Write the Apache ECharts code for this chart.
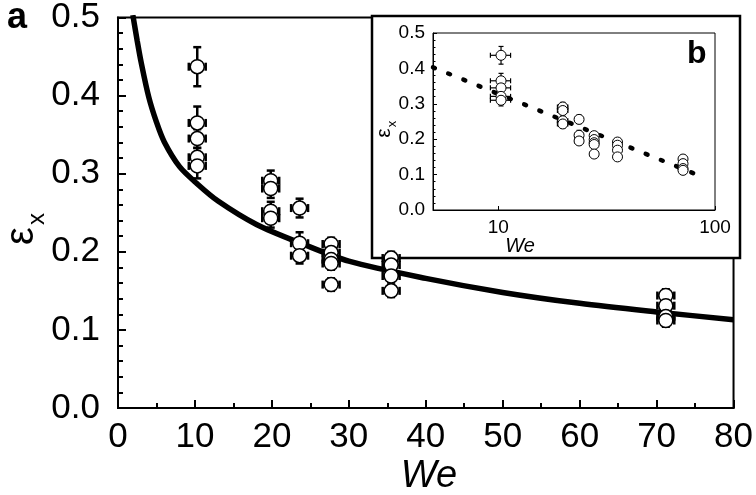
<!DOCTYPE html>
<html>
<head>
<meta charset="utf-8">
<script src="https://cdn.jsdelivr.net/npm/echarts@6/dist/echarts.min.js"></script>
<style>
html,body{margin:0;padding:0;background:#fff;}
#chart{width:756px;height:495px;}
</style>
</head>
<body>
<div id="chart"></div>
<script>
// ---- data ----
const pointWe   = [10.3,10.3,10.3,10.3,10.3, 19.85,19.85,19.85,19.85, 23.6,23.6,23.6, 27.7,27.7,27.7,27.7,27.7, 35.5,35.5,35.5,35.5, 71.2,71.2,71.2,71.2];
const pointEps  = [0.437,0.365,0.345,0.321,0.310, 0.291,0.281,0.252,0.243, 0.256,0.211,0.195, 0.210,0.199,0.190,0.185,0.158, 0.192,0.183,0.169,0.150, 0.144,0.131,0.117,0.112];
const pointErrY = [0.025,0.021,0.012,0.012,0.016, 0.013,0.012,0.012,0.012, 0.012,0.014,0.010, 0.008,0.008,0.008,0.008,0.008, 0.008,0.008,0.008,0.008, 0.008,0.008,0.008,0.008];
const pointErrX = [1.1,1.1,1.1,1.1,1.1, 1.1,1.1,1.1,1.1, 1.1,1.1,1.1, 1.1,1.1,1.1,1.1,1.1, 1.1,1.1,1.1,1.1, 1.1,1.1,1.1,1.1];

// fitted curve in panel a
const curveWe  = [1.93, 2.5, 3.0, 4.0, 5.0, 6.0, 8.0, 10.3, 13.0, 18.0, 24.0, 30.0, 40.0, 50.0, 60.0, 70.0, 80.0];
const curveEps = [0.503,0.470,0.443,0.398,0.366,0.341,0.309,0.287,0.265,0.235,0.210,0.188,0.166,0.148,0.134,0.123,0.113];

// dotted line in inset b (log x axis)
const insetLineWe  = [5, 88];
const insetLineEps = [0.403, 0.093];

const mainXTicks = [0, 80, 10];
const mainYTicks = [0, 0.5, 0.1];

const FONT = '"Liberation Sans", Arial, Helvetica, sans-serif';

const pts = pointWe.map((w, i) => [w, pointEps[i], pointErrY[i], pointErrX[i]]);
const curve = curveWe.map((w, i) => [w, curveEps[i]]);
const insetLine = insetLineWe.map((w, i) => [w, insetLineEps[i]]);

function errRender(lw, cap) {
  return function (params, api) {
    const x = api.value(0), y = api.value(1), ey = api.value(2), ex = api.value(3);
    const top = api.coord([x, y + ey]);
    const bot = api.coord([x, y - ey]);
    const lft = api.coord([x - ex, y]);
    const rgt = api.coord([x + ex, y]);
    const st = { stroke: '#000', lineWidth: lw };
    const L = (x1, y1, x2, y2) => ({ type: 'line', shape: { x1, y1, x2, y2 }, style: st });
    return {
      type: 'group',
      children: [
        L(top[0], top[1], bot[0], bot[1]),
        L(top[0] - cap, top[1], top[0] + cap, top[1]),
        L(bot[0] - cap, bot[1], bot[0] + cap, bot[1]),
        L(lft[0], lft[1], rgt[0], rgt[1]),
        L(lft[0], lft[1] - cap, lft[0], lft[1] + cap),
        L(rgt[0], rgt[1] - cap, rgt[0], rgt[1] + cap)
      ]
    };
  };
}

const chart = echarts.init(document.getElementById('chart'), null, { renderer: 'canvas' });

const option = {
  backgroundColor: '#fff',
  animation: false,
  grid: [
    { left: 118, top: 17, width: 622, height: 391, show: true, borderColor: '#000', borderWidth: 2, backgroundColor: 'transparent' },
    { left: 433, top: 33, width: 282, height: 177, show: true, borderColor: '#000', borderWidth: 1, backgroundColor: '#fff', z: 10 }
  ],
  xAxis: [
    {
      gridIndex: 0, type: 'value', min: mainXTicks[0], max: mainXTicks[1], interval: mainXTicks[2],
      axisLine: { lineStyle: { color: '#000', width: 2 } },
      axisTick: { inside: true, length: 8, lineStyle: { color: '#000', width: 2 } },
      minorTick: { show: true, splitNumber: 2, length: 5, lineStyle: { color: '#000', width: 2 } },
      splitLine: { show: false },
      axisLabel: { color: '#000', fontSize: 35, fontFamily: FONT, margin: 12 }
    },
    {
      gridIndex: 1, type: 'log', logBase: 10, min: 5, max: 100, z: 10,
      axisLine: { lineStyle: { color: '#000', width: 1 } },
      axisTick: { inside: true, length: 4, lineStyle: { color: '#000', width: 1 } },
      splitLine: { show: false },
      axisLabel: {
        color: '#000', fontSize: 19, fontFamily: FONT, margin: 8,
        formatter: v => (Math.abs(Math.log10(v) - Math.round(Math.log10(v))) < 1e-6 ? String(Math.round(v)) : '')
      }
    }
  ],
  yAxis: [
    {
      gridIndex: 0, type: 'value', min: mainYTicks[0], max: mainYTicks[1], interval: mainYTicks[2],
      axisLine: { lineStyle: { color: '#000', width: 2 } },
      axisTick: { inside: true, length: 8, lineStyle: { color: '#000', width: 2 } },
      minorTick: { show: true, splitNumber: 5, length: 5, lineStyle: { color: '#000', width: 2 } },
      splitLine: { show: false },
      axisLabel: { color: '#000', fontSize: 35, fontFamily: FONT, margin: 18, formatter: v => v.toFixed(1) }
    },
    {
      gridIndex: 1, type: 'value', min: 0, max: 0.5, interval: 0.1, z: 10,
      axisLine: { lineStyle: { color: '#000', width: 1 } },
      axisTick: { inside: true, length: 4, lineStyle: { color: '#000', width: 1 } },
      minorTick: { show: true, splitNumber: 5, length: 2.5, lineStyle: { color: '#000', width: 1 } },
      splitLine: { show: false },
      axisLabel: { color: '#000', fontSize: 19, fontFamily: FONT, margin: 8, formatter: v => v.toFixed(1) }
    }
  ],
  graphic: [
    { type: 'rect', z: 1, shape: { x: 372, y: 16, width: 368, height: 242 }, style: { fill: '#fff', stroke: '#000', lineWidth: 2.5 } },
    { type: 'text', z: 20, x: 7, y: 0, style: { text: 'a', font: 'bold 36px ' + FONT, fill: '#000' } },
    { type: 'text', z: 20, x: 687, y: 38, style: { text: 'b', font: 'bold 32px ' + FONT, fill: '#000' } },
    { type: 'text', z: 20, x: 22, y: 236, rotation: Math.PI / 2, style: { text: 'ε', font: '40px ' + FONT, fill: '#000', align: 'center', verticalAlign: 'middle' } },
    { type: 'text', z: 20, x: 37, y: 219, rotation: Math.PI / 2, style: { text: 'x', font: '24px ' + FONT, fill: '#000', align: 'center', verticalAlign: 'middle' } },
    { type: 'text', z: 20, x: 429, y: 476, style: { text: 'We', font: 'italic 38px ' + FONT, fill: '#000', align: 'center', verticalAlign: 'middle' } },
    { type: 'text', z: 20, x: 384, y: 133, rotation: Math.PI / 2, style: { text: 'ε', font: '21px ' + FONT, fill: '#000', align: 'center', verticalAlign: 'middle' } },
    { type: 'text', z: 20, x: 392, y: 124, rotation: Math.PI / 2, style: { text: 'x', font: '13px ' + FONT, fill: '#000', align: 'center', verticalAlign: 'middle' } },
    { type: 'text', z: 20, x: 520, y: 246, style: { text: 'We', font: 'italic 20px ' + FONT, fill: '#000', align: 'center', verticalAlign: 'middle' } }
  ],
  series: [
    {
      type: 'line', xAxisIndex: 0, yAxisIndex: 0, data: curve, smooth: 0.3,
      showSymbol: false, symbol: 'none', lineStyle: { color: '#000', width: 5.5 }, z: 2
    },
    {
      type: 'custom', xAxisIndex: 0, yAxisIndex: 0, data: pts, renderItem: errRender(2.5, 4), z: 3
    },
    {
      type: 'scatter', xAxisIndex: 0, yAxisIndex: 0, data: pts, symbol: 'circle', symbolSize: 14,
      itemStyle: { color: '#fff', borderColor: '#000', borderWidth: 1.5, opacity: 1 }, z: 4
    },
    {
      type: 'line', xAxisIndex: 1, yAxisIndex: 1, data: insetLine, showSymbol: false, symbol: 'none', z: 11,
      lineStyle: { color: '#000', width: 4.5, type: [2, 14.4], cap: 'round' }
    },
    {
      type: 'custom', xAxisIndex: 1, yAxisIndex: 1, data: pts, renderItem: errRender(1.2, 2.5), z: 12
    },
    {
      type: 'scatter', xAxisIndex: 1, yAxisIndex: 1, data: pts, symbol: 'circle', symbolSize: 10,
      itemStyle: { color: '#fff', borderColor: '#000', borderWidth: 1, opacity: 1 }, z: 13
    }
  ]
};
chart.setOption(option);
</script>
</body>
</html>
